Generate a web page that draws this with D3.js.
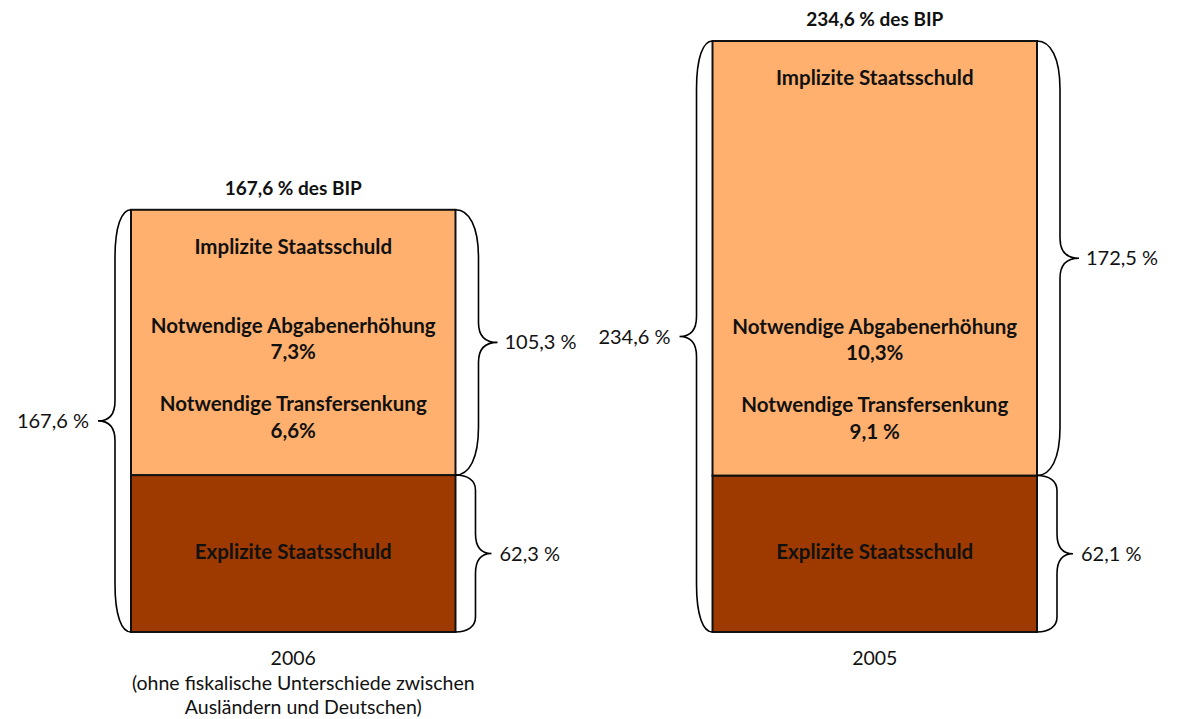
<!DOCTYPE html>
<html><head><meta charset="utf-8">
<script src="https://cdn.jsdelivr.net/npm/d3@7"></script>
<style>body{margin:0;background:#fff}svg{display:block}text{font-family:Lato,"Open Sans",sans-serif}</style>
</head><body>
<svg id="c" width="1183" height="719"></svg>
<script>
const categories = ["2006", "2005"];
const explicitDebt = [62.3, 62.1];
const implicitDebt = [105.3, 172.5];
const totalDebt = [167.6, 234.6];
const abgabenLabels = ["7,3%", "10,3%"];
const transferLabels = ["6,6%", "9,1 %"];
const categoryNotes = [["(ohne fiskalische Unterschiede zwischen", "Ausländern und Deutschen)"], []];
const segmentNames = ["Explizite Staatsschuld", "Implizite Staatsschuld"];

const locale = d3.formatLocale({decimal: ",", thousands: ".", grouping: [3], currency: ["", " €"]});
const fmt = v => locale.format(".1f")(v) + " %";

const svg = d3.select("#c");
const x = d3.scaleBand().domain(categories).range([131, 1037]).paddingInner(0.442).paddingOuter(0);
const y = d3.scaleLinear().domain([0, d3.max(totalDebt)]).range([632, 41]);
const colors = ["#9E3A00", "#FFB06E"];

const data = categories.map((c, i) => ({
  c, i,
  segs: [
    {name: segmentNames[0], y0: 0, y1: explicitDebt[i], color: colors[0]},
    {name: segmentNames[1], y0: explicitDebt[i], y1: explicitDebt[i] + implicitDebt[i], color: colors[1]}
  ]
}));

function brace(x0, ya, yb, d, w1, w2) {
  const h = Math.abs(yb - ya);
  const r = h > 200 ? 48 : 15;
  const r2 = 20;
  const ym = (ya + yb) / 2;
  const x1 = x0 + d * w1, x2 = x0 + d * w2;
  const xc = x1 + d * (w2 - w1) * 0.35;
  return `M${x0},${ya} C${x0 + d * w1 * 0.6},${ya} ${x1},${ya + r * 0.35} ${x1},${ya + r} ` +
         `L${x1},${ym - r2} C${x1},${ym - r2 * 0.35} ${xc},${ym} ${x2},${ym} ` +
         `C${xc},${ym} ${x1},${ym + r2 * 0.35} ${x1},${ym + r2} ` +
         `L${x1},${yb - r} C${x1},${yb - r * 0.35} ${x0 + d * w1 * 0.6},${yb} ${x0},${yb}`;
}

const g = svg.selectAll("g.bar").data(data).enter().append("g").attr("class", "bar");

g.selectAll("rect").data(d => d.segs.map(s => Object.assign({c: d.c}, s))).enter().append("rect")
  .attr("x", s => x(s.c))
  .attr("width", x.bandwidth())
  .attr("y", s => y(s.y1))
  .attr("height", s => y(s.y0) - y(s.y1))
  .attr("fill", s => s.color)
  .attr("stroke", "#111").attr("stroke-width", 2);

g.each(function(d) {
  const gg = d3.select(this);
  const bx = x(d.c), bw = x.bandwidth(), cx = bx + bw / 2;
  const yTop = y(totalDebt[d.i]), yMid = y(explicitDebt[d.i]), yBot = y(0);
  const braceStyle = p => p.attr("fill", "none").attr("stroke", "#000").attr("stroke-width", 1.6);
  // left brace total
  gg.append("path").attr("d", brace(bx, yTop, yBot, -1, 16, 33)).call(braceStyle);
  gg.append("text").attr("x", bx - 42).attr("y", (yTop + yBot) / 2 + 7).attr("text-anchor", "end")
    .attr("font-size", 20).attr("fill", "#111").text(fmt(totalDebt[d.i]));
  // right braces
  gg.append("path").attr("d", brace(bx + bw, yTop, yMid, 1, 23, 42)).call(braceStyle);
  gg.append("text").attr("x", bx + bw + 49).attr("y", (yTop + yMid) / 2 + 7)
    .attr("font-size", 20).attr("fill", "#111").text(fmt(implicitDebt[d.i]));
  gg.append("path").attr("d", brace(bx + bw, yMid, yBot, 1, 20, 36)).call(braceStyle);
  gg.append("text").attr("x", bx + bw + 44).attr("y", (yMid + yBot) / 2 + 7)
    .attr("font-size", 20).attr("fill", "#111").text(fmt(explicitDebt[d.i]));
  // top label
  gg.append("text").attr("x", cx).attr("y", yTop - 15).attr("text-anchor", "middle")
    .attr("font-size", 19).attr("font-weight", "bold").attr("fill", "#111").text(fmt(totalDebt[d.i]) + " des BIP");
  // inside labels
  const bold = (t, yy) => gg.append("text").attr("x", cx).attr("y", yy).attr("text-anchor", "middle")
    .attr("font-size", 20.5).attr("font-weight", "bold").attr("fill", "#111").text(t);
  bold(segmentNames[1], yTop + 44);
  bold("Notwendige Abgabenerhöhung", yMid - 142);
  bold(abgabenLabels[d.i], yMid - 116);
  bold("Notwendige Transfersenkung", yMid - 64);
  bold(transferLabels[d.i], yMid - 37);
  bold(segmentNames[0], (yMid + yBot) / 2 + 5);
  // category labels
  const lines = [d.c].concat(categoryNotes[d.i]);
  lines.forEach((t, k) => gg.append("text").attr("x", cx + (k > 0 ? 10 : 0)).attr("y", yBot + 33 + k * 24.5)
    .attr("text-anchor", "middle").attr("font-size", 19.5).attr("fill", "#111").text(t));
});
</script>
</body></html>
